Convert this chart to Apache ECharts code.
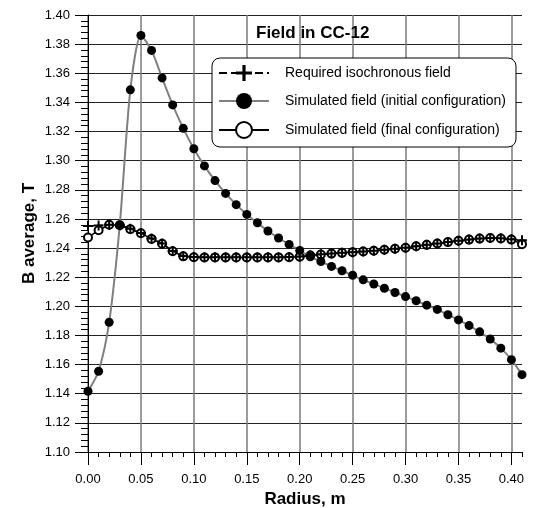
<!DOCTYPE html>
<html lang="en">
<head>
    <meta charset="UTF-8">
    <title>Field in CC-12</title>
    <script src="https://cdn.jsdelivr.net/npm/echarts@6/dist/echarts.min.js"></script>
</head>
<body style="margin:0">
<div id="main" style="width:535px; height:508px;"></div>
<script>
    // radius, m
    var radius = [0.00, 0.01, 0.02, 0.03, 0.04, 0.05, 0.06, 0.07, 0.08, 0.09,
        0.10, 0.11, 0.12, 0.13, 0.14, 0.15, 0.16, 0.17, 0.18, 0.19,
        0.20, 0.21, 0.22, 0.23, 0.24, 0.25, 0.26, 0.27, 0.28, 0.29,
        0.30, 0.31, 0.32, 0.33, 0.34, 0.35, 0.36, 0.37, 0.38, 0.39,
        0.40, 0.41];
    // required isochronous field, T
    var isoField = [1.2552, 1.2555, 1.2560, 1.2557, 1.2532, 1.2503, 1.2465, 1.2432, 1.2380, 1.2345,
        1.2338, 1.2337, 1.2337, 1.2337, 1.2337, 1.2337, 1.2337, 1.2337, 1.2337, 1.2338,
        1.2342, 1.2350, 1.2357, 1.2362, 1.2368, 1.2372, 1.2377, 1.2382, 1.2389, 1.2395,
        1.2402, 1.2413, 1.2422, 1.2431, 1.2441, 1.2450, 1.2458, 1.2465, 1.2469, 1.2467,
        1.2460, 1.2453];
    // simulated, initial configuration
    var initField = [1.1417, 1.1554, 1.1891, 1.2558, 1.3486, 1.3860, 1.3757, 1.3568, 1.3383, 1.3222,
        1.3082, 1.2964, 1.2863, 1.2775, 1.2698, 1.2631, 1.2573, 1.2517, 1.2469, 1.2425,
        1.2384, 1.2340, 1.2308, 1.2274, 1.2244, 1.2213, 1.2182, 1.2153, 1.2124, 1.2095,
        1.2067, 1.2038, 1.2008, 1.1979, 1.1942, 1.1907, 1.1868, 1.1825, 1.1775, 1.1713,
        1.1634, 1.1531];
    // simulated, final configuration
    var finalField = [1.2473, 1.2522, 1.2560, 1.2557, 1.2530, 1.2502, 1.2463, 1.2430, 1.2378, 1.2343,
        1.2337, 1.2336, 1.2336, 1.2336, 1.2336, 1.2336, 1.2336, 1.2336, 1.2336, 1.2337,
        1.2341, 1.2349, 1.2356, 1.2362, 1.2367, 1.2372, 1.2377, 1.2382, 1.2389, 1.2395,
        1.2402, 1.2413, 1.2422, 1.2431, 1.2441, 1.2450, 1.2458, 1.2465, 1.2469, 1.2466,
        1.2458, 1.2427];
    var xMajorTicks = [0.00, 0.05, 0.10, 0.15, 0.20, 0.25, 0.30, 0.35, 0.40];
    var seriesNames = ['Required isochronous field', 'Simulated field (initial configuration)', 'Simulated field (final configuration)'];

    var font = 'Liberation Sans, Arial, sans-serif';
    var plus = 'path://M4,0 H6 V4 H10 V6 H6 V10 H4 V6 H0 V4 H4 Z';

    function pairs(arr) {
        return radius.map(function (r, i) { return [r, arr[i]]; });
    }

    var myChart = echarts.init(document.getElementById('main'));
    var gridBox = {left: 88, right: 13, top: 15, bottom: 56, outerBoundsMode: 'none', containLabel: false};

    var option = {
        animation: false,
        textStyle: {fontFamily: font, color: '#000'},
        title: {
            text: 'Field in CC-12',
            left: 256, top: 25, padding: 0,
            textStyle: {fontFamily: font, fontSize: 17, fontWeight: 'bold', color: '#000'}
        },
        legend: {
            data: seriesNames,
            orient: 'vertical',
            left: 212, top: 58,
            itemWidth: 50, itemHeight: 20, itemGap: 12,
            padding: [7, 10, 8, 6],
            backgroundColor: '#fff',
            borderColor: '#000', borderWidth: 1, borderRadius: 8,
            textStyle: {fontFamily: font, fontSize: 14, color: '#000', padding: [0, 0, 0, 11]}
        },
        grid: [gridBox, gridBox],
        xAxis: [
            {
                type: 'value', gridIndex: 0,
                min: 0, max: 0.41, interval: 0.01,
                name: 'Radius, m', nameLocation: 'middle', nameGap: 34,
                nameTextStyle: {fontFamily: font, fontSize: 17, fontWeight: 'bold', color: '#000'},
                axisLine: {lineStyle: {color: '#000', width: 1}},
                axisTick: {length: 5, lineStyle: {color: '#000'}},
                axisLabel: {
                    margin: 21, fontSize: 13, color: '#000', fontFamily: font,
                    formatter: function (v) {
                        return Math.round(v * 100) % 5 === 0 ? v.toFixed(2) : '';
                    }
                },
                splitLine: {
                    show: true,
                    lineStyle: {color: ['#7a7a7a', 'rgba(0,0,0,0)', 'rgba(0,0,0,0)', 'rgba(0,0,0,0)', 'rgba(0,0,0,0)'], width: 1.5}
                }
            },
            {
                type: 'value', gridIndex: 1,
                min: 0, max: 0.41, interval: 0.05,
                axisLine: {show: false},
                axisTick: {show: true, length: 13, customValues: xMajorTicks, lineStyle: {color: '#000'}},
                axisLabel: {show: false},
                splitLine: {show: false}
            }
        ],
        yAxis: [
            {
                type: 'value', gridIndex: 0,
                min: 1.10, max: 1.40, interval: 0.02,
                name: 'B average, T', nameLocation: 'middle', nameGap: 50,
                nameMoveOverlap: false,
                nameTextStyle: {fontFamily: font, fontSize: 17, fontWeight: 'bold', color: '#000'},
                axisLine: {show: true, lineStyle: {color: '#000', width: 1}},
                axisTick: {show: true, length: 13, lineStyle: {color: '#000'}},
                minorTick: {show: true, splitNumber: 5, length: 7, lineStyle: {color: '#000'}},
                axisLabel: {
                    margin: 18, fontSize: 13, color: '#000', fontFamily: font,
                    formatter: function (v) { return v.toFixed(2); }
                },
                splitLine: {show: true, lineStyle: {color: '#222', width: 1}}
            },
            {
                type: 'value', gridIndex: 1, min: 1.10, max: 1.40,
                show: false
            }
        ],
        series: [
            {
                name: seriesNames[2],
                type: 'line',
                data: pairs(finalField),
                symbol: 'emptyCircle', symbolSize: 8,
                itemStyle: {color: '#000', borderWidth: 1},
                lineStyle: {color: '#000', width: 1.5},
                z: 2
            },
            {
                name: seriesNames[1],
                type: 'line',
                data: pairs(initField),
                smooth: 0.25,
                symbol: 'circle', symbolSize: 9,
                itemStyle: {color: '#000'},
                lineStyle: {color: '#808080', width: 2},
                z: 3
            },
            {
                name: seriesNames[0],
                type: 'line',
                data: pairs(isoField),
                symbol: plus, symbolSize: 10,
                itemStyle: {color: '#000'},
                lineStyle: {color: '#000', width: 1.5, type: 'dashed'},
                z: 4
            }
        ]
    };
    myChart.setOption(option);
</script>
</body>
</html>
